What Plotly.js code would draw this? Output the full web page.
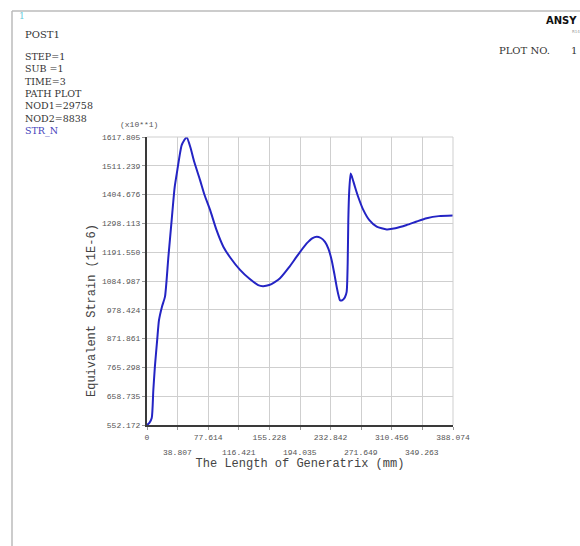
<!DOCTYPE html>
<html>
<head>
<meta charset="utf-8">
<script src="https://cdn.plot.ly/plotly-3.0.1.min.js"></script>
<style>html,body{margin:0;padding:0;background:#fff;}#chart{width:580px;height:546px;}</style>
</head>
<body>
<div id="chart"></div>
<script>
// Path data: length of generatrix (mm) vs equivalent strain (1E-6, x10**1)
const lengthMM = [0,3,6,8,10,13,15.2,19,22.8,27,31.3,35,38.5,42,44,47,50.3,55,60,67.2,73,80,88,96.8,106,118,130,141,147,155,162,168.7,180,189.8,202.5,210,215.2,220,225.7,230,234.2,238,240.5,243,244.7,247,249,251,253.2,254.5,255.3,256.5,258.3,260,263.7,268,274.3,282,291.3,304,315,329.4,342,354.7,370,388];
const strainN = [552,560,578,680,768,870,940,990,1027,1170,1311,1430,1496,1560,1588,1605,1617,1580,1525,1459,1403,1348,1275,1212,1170,1126,1093,1070,1066,1070,1081,1095,1135,1175,1224,1244,1249,1245,1230,1205,1162,1105,1064,1030,1014,1013,1017,1025,1045,1150,1311,1420,1483,1470,1434,1395,1348,1310,1286,1276,1280,1292,1305,1317,1325,1327];

const xTickVals = [0,38.807,77.614,116.421,155.228,194.035,232.842,271.649,310.456,349.263,388.074];
const xTickText = ["0","38.807","77.614","116.421","155.228","194.035","232.842","271.649","310.456","349.263","388.074"];
const yTickVals = [552.172,658.735,765.298,871.861,978.424,1084.987,1191.550,1298.113,1404.676,1511.239,1617.805];
const yTickText = ["552.172","658.735","765.298","871.861","978.424","1084.987","1191.550","1298.113","1404.676","1511.239","1617.805"];

const infoLines = ["STEP=1","SUB =1","TIME=3","PATH PLOT","NOD1=29758","NOD2=8838"];
const seriesName = "STR_N";

// plot area in pixels
const L = 147, R = 453, T = 137, B = 425;
const W = 580, H = 546;
const px = x => (x - L) / (R - L);
const py = y => (B - y) / (B - T);

const mono = "Liberation Mono, DejaVu Sans Mono, monospace";
const serif = "DejaVu Serif, Liberation Serif, serif";

const annotations = [];
function txt(text, x, y, opts) {
  annotations.push(Object.assign({
    text: text, xref: 'paper', yref: 'paper', x: px(x), y: py(y),
    xanchor: 'left', yanchor: 'middle', showarrow: false,
    font: {family: serif, size: 10, color: '#333'}
  }, opts || {}));
}
txt("1", 17, 16, {font: {family: serif, size: 9, color: '#66ccdd'}});
txt("POST1", 23, 35);
txt(infoLines.join("<br>") + '<br><span style="color:#4444bb">' + seriesName + '</span>', 23, 49,
    {yanchor: 'top', align: 'left', font: {family: serif, size: 9.5, color: '#333'}});
txt("(x10**1)", 118, 125, {font: {family: mono, size: 8, color: '#555'}});
txt("<b>ANSY</b>", 579, 20, {xanchor: 'right', font: {family: "DejaVu Sans, sans-serif", size: 10, color: '#111'}});
txt("R14", 570, 31, {font: {family: "DejaVu Sans, sans-serif", size: 4, color: '#999'}});
txt("PLOT NO.", 497, 50);
txt("1", 569, 50);
txt("Equivalent Strain (1E-6)", 92, 311, {xanchor: 'center', textangle: -90, font: {family: mono, size: 12, color: '#444'}});

// second row of x tick labels (odd ticks), placed via x axis scale
xTickVals.forEach((v, i) => {
  if (i % 2 === 1) {
    annotations.push({
      text: xTickText[i], xref: 'x', yref: 'paper', x: v, y: py(452),
      xanchor: 'center', yanchor: 'middle', showarrow: false,
      font: {family: mono, size: 8, color: '#555'}
    });
  }
});

const trace = {
  x: lengthMM, y: strainN, type: 'scatter', mode: 'lines',
  line: {color: '#2424c4', width: 2, shape: 'spline', smoothing: 0.6},
  hoverinfo: 'skip'
};

const layout = {
  width: W, height: H,
  margin: {l: L, r: W - R, t: T, b: H - B, pad: 0},
  paper_bgcolor: '#fff', plot_bgcolor: '#fff',
  showlegend: false,
  xaxis: {
    range: [0, 388.074], tickmode: 'array', tickvals: xTickVals,
    ticktext: xTickText.map((s, i) => i % 2 === 0 ? s : ''),
    showgrid: true, gridcolor: '#cfcfcf', gridwidth: 1,
    zeroline: false, showline: true, linecolor: '#3a3a3a', linewidth: 2,
    ticks: 'outside', ticklen: 3, tickcolor: '#999',
    tickfont: {family: mono, size: 8, color: '#555'},
    title: {text: 'The Length of Generatrix (mm)', font: {family: mono, size: 12, color: '#444'}, standoff: 18}
  },
  yaxis: {
    range: [552.172, 1617.805], tickmode: 'array', tickvals: yTickVals, ticktext: yTickText,
    showgrid: true, gridcolor: '#cfcfcf', gridwidth: 1,
    zeroline: false, showline: true, linecolor: '#3a3a3a', linewidth: 2,
    ticks: 'outside', ticklen: 3, tickcolor: '#999',
    tickfont: {family: mono, size: 8, color: '#555'}
  },
  shapes: [
    {type: 'line', xref: 'paper', yref: 'paper', x0: px(L), x1: px(R), y0: 1, y1: 1, line: {color: '#cfcfcf', width: 1}},
    {type: 'line', xref: 'paper', yref: 'paper', x0: 1, x1: 1, y0: 0, y1: 1, line: {color: '#cfcfcf', width: 1}},
    {type: 'line', xref: 'paper', yref: 'paper', x0: px(12), x1: px(580), y0: py(11), y1: py(11), line: {color: '#bbb', width: 1.5}},
    {type: 'line', xref: 'paper', yref: 'paper', x0: px(12), x1: px(12), y0: py(11), y1: py(546), line: {color: '#bbb', width: 1.5}}
  ],
  annotations: annotations
};

Plotly.newPlot('chart', [trace], layout, {staticPlot: true, displayModeBar: false});
</script>
</body>
</html>
